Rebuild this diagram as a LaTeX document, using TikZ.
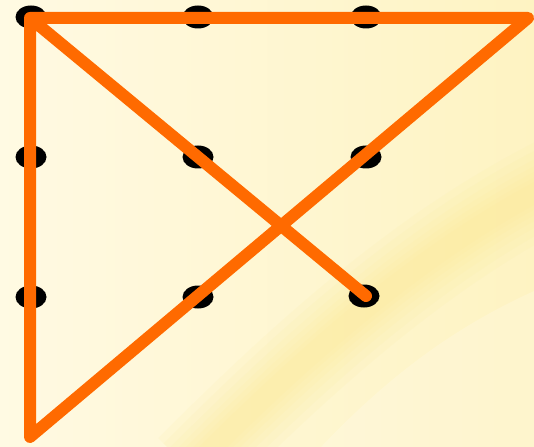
\documentclass[tikz,border=0pt]{standalone}
\usetikzlibrary{shapes.geometric}
\definecolor{bgl}{HTML}{FFFAE3}
\definecolor{bgr}{HTML}{FEF3C2}
\definecolor{band}{HTML}{FCEB93}
\definecolor{stroke}{HTML}{FF6A00}
\tikzset{
  dot/.style={fill=black, ellipse, minimum width=31pt, minimum height=23pt, inner sep=0pt},
  pen/.style={draw=stroke, line width=12pt, line cap=round, line join=round},
  glow/.style={draw=band, opacity=0.1, line cap=butt}
}
\begin{document}
\begin{tikzpicture}[x=1pt,y=-1pt]
\useasboundingbox (0,0) rectangle (534,446);
\shade[left color=bgl, right color=bgr] (0,0) rectangle (534,446);
% soft curved band
\foreach \w in {90,75,60,48,38,28,20}{
  \draw[glow, line width=\w pt] (190,470) .. controls (300,360) and (420,250) .. (560,180);
}
% lighter region below band
\fill[white, opacity=0.18] (300,470) .. controls (380,380) and (460,320) .. (560,280) -- (560,470) -- cycle;
% dots
\node[dot] (d11) at (31,17) {};
\node[dot] (d12) at (198,17) {};
\node[dot] (d13) at (366,17) {};
\node[dot] (d21) at (31,157) {};
\node[dot] (d22) at (198,157) {};
\node[dot] (d23) at (366,157) {};
\node[dot] (d31) at (31,297) {};
\node[dot] (d32) at (198,297) {};
\node[dot] (d33) at (364,296) {};
% path
\coordinate (tl) at (30,18);
\coordinate (tr) at (528,18);
\coordinate (bl) at (30,437);
\coordinate (end) at (366,296);
\draw[pen] (end) -- (tl) -- (tr) -- (bl) -- (tl);
\end{tikzpicture}
\end{document}
